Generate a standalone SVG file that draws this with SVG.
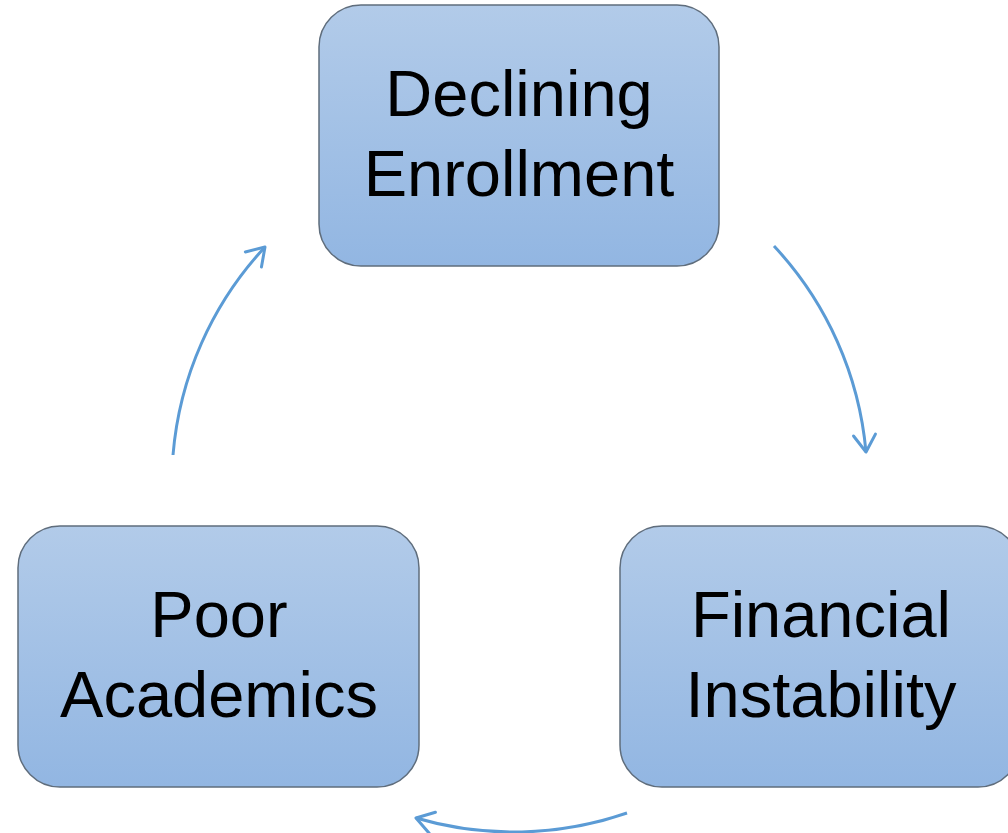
<svg xmlns="http://www.w3.org/2000/svg" width="1008" height="833" viewBox="0 0 1008 833">
  <defs>
    <linearGradient id="boxFill" x1="0" y1="0" x2="0" y2="1">
      <stop offset="0" stop-color="#b2cbe9"/>
      <stop offset="1" stop-color="#92b6e2"/>
    </linearGradient>
    <marker id="arrow" markerUnits="userSpaceOnUse" markerWidth="40" markerHeight="40" viewBox="-25 -20 40 40" refX="0" refY="0" orient="auto" overflow="visible">
      <path d="M -17 -11 L 0 0 L -17 11" fill="none" stroke="#5b9bd5" stroke-width="3" stroke-linecap="round" stroke-linejoin="round"/>
    </marker>
    <style>
      .box { fill: url(#boxFill); stroke: #5f6d7c; stroke-width: 1.5; }
      .label { font-family: "Liberation Sans", Arial, sans-serif; font-size: 65px; fill: #000; text-anchor: middle; }
      .conn { fill: none; stroke: #5b9bd5; stroke-width: 3; marker-end: url(#arrow); }
    </style>
  </defs>
  <rect width="1008" height="833" fill="#ffffff"/>

  <g id="connectors">
    <path class="conn" d="M 774 246 A 347 347 0 0 1 866 452"/>
    <path class="conn" d="M 627 813 A 347 347 0 0 1 416 818"/>
    <path class="conn" d="M 173 455 A 347 347 0 0 1 265 247"/>
  </g>

  <g id="node-declining-enrollment">
    <rect class="box" x="319" y="5" width="400" height="261" rx="42" ry="42"/>
    <text class="label" x="519" y="116">Declining</text>
    <text class="label" x="519" y="196">Enrollment</text>
  </g>

  <g id="node-financial-instability">
    <rect class="box" x="620" y="526" width="400" height="261" rx="42" ry="42"/>
    <text class="label" x="821" y="637">Financial</text>
    <text class="label" x="821" y="717">Instability</text>
  </g>

  <g id="node-poor-academics">
    <rect class="box" x="18" y="526" width="401" height="261" rx="42" ry="42"/>
    <text class="label" x="219" y="637">Poor</text>
    <text class="label" x="219" y="717">Academics</text>
  </g>
</svg>
